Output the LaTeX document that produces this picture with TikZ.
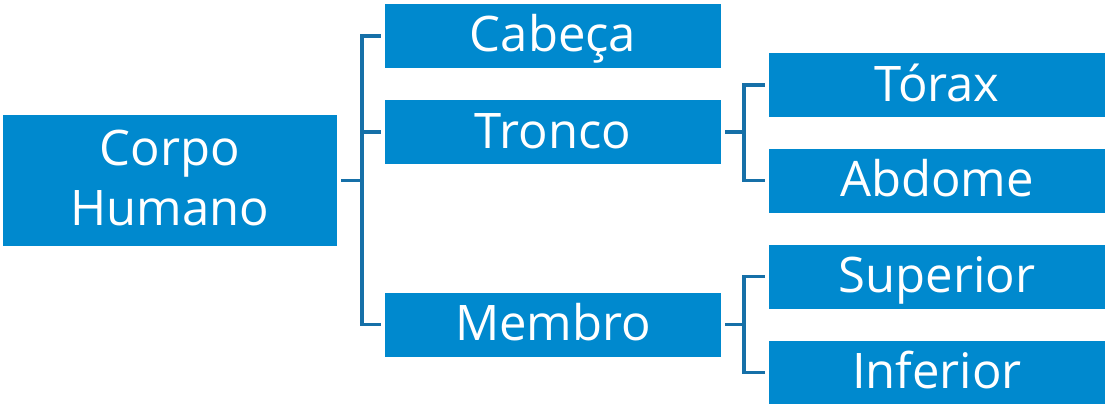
\documentclass[tikz,border=0pt]{standalone}
\usepackage{fontspec}
\setmainfont{Open Sans}
\definecolor{boxblue}{RGB}{0,137,206}
\definecolor{lineblue}{RGB}{22,112,168}
\begin{document}
\begin{tikzpicture}[x=1pt,y=-1pt,
  box/.style={fill=boxblue,draw=none,text=white,inner sep=0pt,
    font=\fontsize{49}{60}\selectfont,align=center},
  wide/.style={box,minimum width=336pt,minimum height=64pt,text height=40pt,text depth=8pt},
  conn/.style={draw=lineblue,line width=3.5pt,shorten <=4pt,shorten >=4pt}]
\useasboundingbox (0,0) rectangle (1105,404);
\node[box,minimum width=334pt,minimum height=131pt,text depth=5pt] (corpo) at (170,180.5) {Corpo\\Humano};
\node[wide] (cabeca) at (553,36) {Cabeça};
\node[wide] (tronco) at (553,132) {Tronco};
\node[wide] (membro) at (553,324.5) {Membro};
\node[wide] (torax) at (937,85) {Tórax};
\node[wide] (abdome) at (937,180.5) {Abdome};
\node[wide] (superior) at (937,276.5) {Superior};
\node[wide] (inferior) at (937,372.5) {Inferior};
\coordinate (j1) at (362,180.5);
\coordinate (j2) at (744,132);
\coordinate (j3) at (744,324.5);
\draw[conn,shorten >=0pt] (corpo.east) -- (j1);
\draw[conn,shorten <=0pt] (j1) |- (cabeca.west);
\draw[conn,shorten <=0pt] (j1) |- (tronco.west);
\draw[conn,shorten <=0pt] (j1) |- (membro.west);
\draw[conn,shorten >=0pt] (tronco.east) -- (j2);
\draw[conn,shorten <=0pt] (j2) |- (torax.west);
\draw[conn,shorten <=0pt] (j2) |- (abdome.west);
\draw[conn,shorten >=0pt] (membro.east) -- (j3);
\draw[conn,shorten <=0pt] (j3) |- (superior.west);
\draw[conn,shorten <=0pt] (j3) |- (inferior.west);
\end{tikzpicture}
\end{document}
